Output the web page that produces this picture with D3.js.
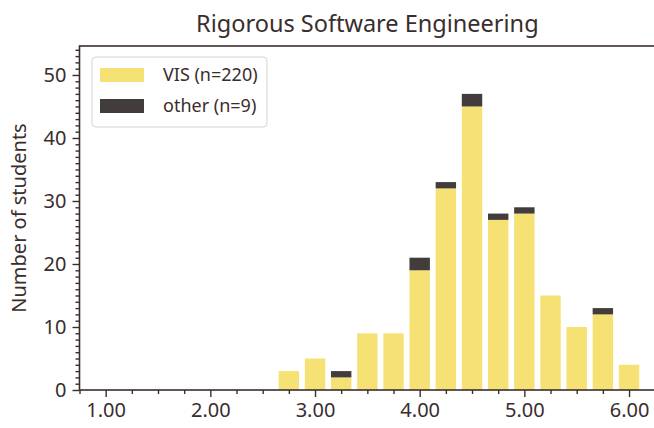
<!DOCTYPE html>
<html>
<head>
<meta charset="utf-8">
<script src="https://cdn.jsdelivr.net/npm/d3@7"></script>
<style>
  html, body { margin: 0; padding: 0; background: #ffffff; }
  svg { display: block; font-family: "Noto Sans", "Open Sans", sans-serif; }
</style>
</head>
<body>
<svg id="chart" width="654" height="428"></svg>
<script>
// ---- data ----
const bins = [2.75, 3.00, 3.25, 3.50, 3.75, 4.00, 4.25, 4.50, 4.75, 5.00, 5.25, 5.50, 5.75, 6.00];
const visCounts = [3, 5, 2, 9, 9, 19, 32, 45, 27, 28, 15, 10, 12, 4];
const otherCounts = [0, 0, 1, 0, 0, 2, 1, 2, 1, 1, 0, 0, 1, 0];
const seriesNames = ["VIS (n=220)", "other (n=9)"];
const xTickValues = [1, 2, 3, 4, 5, 6];
const yTickValues = [0, 10, 20, 30, 40, 50];
const chartTitle = "Rigorous Software Engineering";
const yLabel = "Number of students";

// ---- layout ----
const mLeft = 79.5, mRight = 655.2, mTop = 46, mBottom = 390;
const ink = "#3a2d2d";
const colors = ["#f6e274", "#423d3b"];

const svg = d3.select("#chart");
const x = d3.scaleLinear().domain([0.75, 6.25]).range([mLeft, mRight]);
const y = d3.scaleLinear().domain([0, 54.6]).range([mBottom, mTop]);
const barW = x(0.195) - x(0);

// stacked data
const rows = bins.map((b, i) => ({ bin: b, vis: visCounts[i], other: otherCounts[i] }));
const stack = d3.stack().keys(["vis", "other"])(rows);

const g = svg.append("g");
stack.forEach((layer, k) => {
  g.selectAll(null).data(layer.filter(d => d[1] > d[0])).enter().append("rect")
    .attr("x", d => x(d.data.bin) - barW / 2)
    .attr("width", barW)
    .attr("y", d => y(d[1]))
    .attr("height", d => y(d[0]) - y(d[1]))
    .attr("fill", colors[k]);
});

// axes
const xAxis = d3.axisBottom(x).tickValues(xTickValues).tickFormat(d3.format(".2f")).tickSize(7).tickPadding(6);
const xMinor = d3.axisBottom(x).tickValues(d3.range(0.75, 6.26, 0.25).filter(v => Math.abs(v - Math.round(v)) > 1e-6)).tickFormat("").tickSize(4);
const yAxis = d3.axisLeft(y).tickValues(yTickValues).tickSize(7).tickPadding(6);
const yMinor = d3.axisLeft(y).tickValues(d3.range(0, 55, 1).filter(v => v % 10 !== 0)).tickFormat("").tickSize(4);

function style(sel) {
  sel.selectAll("path").remove();
  sel.selectAll("line").attr("stroke", ink).attr("stroke-width", 1.4);
  sel.selectAll("text").attr("fill", ink).style("font-size", "20px").style("font-family", "Noto Sans");
}
svg.append("g").attr("transform", `translate(0,${mBottom})`).call(xMinor).call(style);
svg.append("g").attr("transform", `translate(0,${mBottom})`).call(xAxis).call(style);
svg.append("g").attr("transform", `translate(${mLeft},0)`).call(yMinor).call(style);
svg.append("g").attr("transform", `translate(${mLeft},0)`).call(yAxis).call(style);

// spines
svg.append("rect").attr("x", mLeft).attr("y", mTop).attr("width", mRight - mLeft).attr("height", mBottom - mTop)
  .attr("fill", "none").attr("stroke", ink).attr("stroke-width", 1.6);

// title
svg.append("text").attr("x", (mLeft + mRight) / 2).attr("y", 32).attr("text-anchor", "middle")
  .attr("fill", ink).style("font-size", "23.5px").text(chartTitle);

// y label
svg.append("text").attr("transform", `translate(26,${(mTop + mBottom) / 2}) rotate(-90)`)
  .attr("text-anchor", "middle").attr("fill", ink).style("font-size", "20px").text(yLabel);

// legend
const lg = svg.append("g");
lg.append("rect").attr("x", 92).attr("y", 57).attr("width", 175).attr("height", 70).attr("rx", 4)
  .attr("fill", "#fff").attr("stroke", "#d8d4d0").attr("stroke-width", 1);
seriesNames.forEach((name, i) => {
  const cy = 75 + i * 31;
  lg.append("rect").attr("x", 100).attr("y", cy - 7).attr("width", 44).attr("height", 14).attr("fill", colors[i]);
  lg.append("text").attr("x", 163).attr("y", cy).attr("dy", "0.35em").attr("fill", ink)
    .style("font-size", "18px").text(name);
});
</script>
</body>
</html>
